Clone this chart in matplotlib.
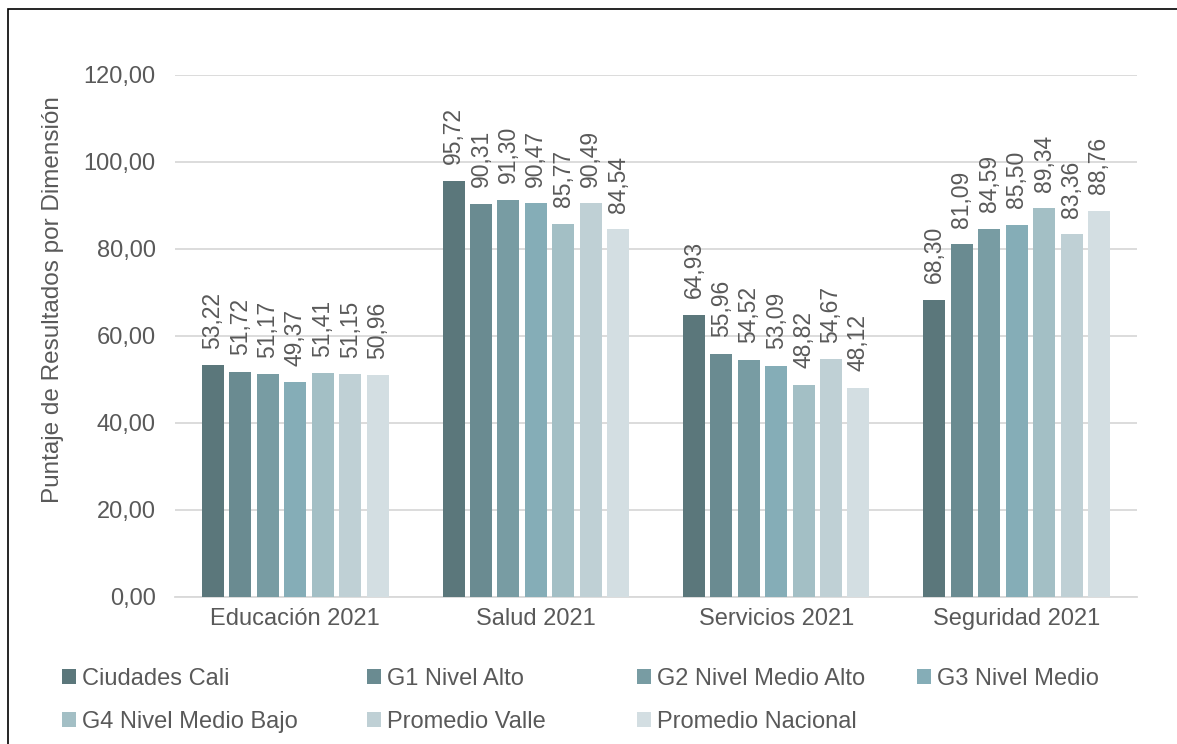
import numpy as np
import matplotlib.pyplot as plt
from matplotlib.patches import Rectangle

plt.rcParams['font.family'] = ['Liberation Sans', 'DejaVu Sans']

# Datos
categorias = ['Educación 2021', 'Salud 2021', 'Servicios 2021', 'Seguridad 2021']
series = ['Ciudades Cali', 'G1 Nivel Alto', 'G2 Nivel Medio Alto', 'G3 Nivel Medio',
          'G4 Nivel Medio Bajo', 'Promedio Valle', 'Promedio Nacional']
ciudades_cali = [53.22, 95.72, 64.93, 68.30]
g1_alto = [51.72, 90.31, 55.96, 81.09]
g2_medio_alto = [51.17, 91.30, 54.52, 84.59]
g3_medio = [49.37, 90.47, 53.09, 85.50]
g4_medio_bajo = [51.41, 85.77, 48.82, 89.34]
promedio_valle = [51.15, 90.49, 54.67, 83.36]
promedio_nacional = [50.96, 84.54, 48.12, 88.76]
valores = [ciudades_cali, g1_alto, g2_medio_alto, g3_medio,
           g4_medio_bajo, promedio_valle, promedio_nacional]

colores = ['#5b777b', '#6a8b91', '#789ca3', '#85adb7', '#a3bfc5', '#bfd0d5', '#d3dee2']
texto = '#595959'

fig = plt.figure(figsize=(11.77, 7.44), dpi=100)
ax = fig.add_axes([0.1487, 0.1976, 0.8173, 0.7016])

x = np.arange(len(categorias))
paso = 0.114
ancho = 0.0915
barras = []
for i, (nombre, vals) in enumerate(zip(series, valores)):
    pos = x + (i - 3) * paso
    b = ax.bar(pos, vals, width=ancho, color=colores[i], label=nombre, zorder=3)
    barras.append(b)
    for px, v in zip(pos, vals):
        ax.annotate(f'{v:.2f}'.replace('.', ','), (px, v), xytext=(0, 12),
                    textcoords='offset points', rotation=90, ha='center', va='bottom',
                    fontsize=16.5, color=texto)

ax.set_xlim(-0.5, 3.5)
ax.set_ylim(0, 120)
ax.set_yticks(np.arange(0, 121, 20))
ax.set_yticklabels([f'{t:.2f}'.replace('.', ',') for t in np.arange(0, 121, 20)])
ax.set_xticks(x)
ax.set_xticklabels(categorias)
ax.tick_params(axis='both', length=0, labelsize=17, colors=texto)
ax.tick_params(axis='y', pad=14)
ax.tick_params(axis='x', pad=8)
ax.grid(axis='y', color='#d9d9d9', linewidth=1.3, zorder=0)
for s in ['top', 'right', 'left']:
    ax.spines[s].set_visible(False)
ax.spines['bottom'].set_color('#d9d9d9')
ax.spines['bottom'].set_linewidth(1.3)
ax.set_ylabel('Puntaje de Resultados por Dimensión', fontsize=17.5, color=texto)
ax.yaxis.set_label_coords(-0.115, 0.569)

# Leyenda: una columna por leyenda para fijar las posiciones
columnas = [[0, 4], [1, 5], [2, 6], [3]]
x_cols = [62, 367, 637, 917]
for idx, xc in zip(columnas, x_cols):
    leg = fig.legend([barras[i] for i in idx], [series[i] for i in idx],
                     loc='upper left', bbox_to_anchor=(xc / 1177, 1 - 668 / 744),
                     frameon=False, fontsize=17, handlelength=0.6, handleheight=0.6,
                     handletextpad=0.25, labelspacing=0.88, borderpad=0, borderaxespad=0)
    for t in leg.get_texts():
        t.set_color(texto)

fig.patches.append(Rectangle((0.0068, -0.1), 1.2, 1.088, transform=fig.transFigure,
                             fill=False, edgecolor='black', linewidth=1.2))

fig.savefig('out.png', dpi=100)
